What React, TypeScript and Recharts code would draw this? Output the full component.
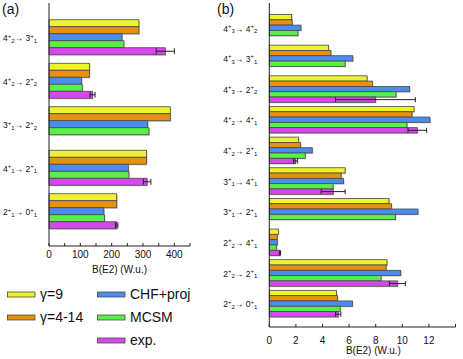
import { Bar, BarChart, ErrorBar, XAxis, YAxis } from 'recharts';

// transitions, written as "J+i>J+f" and split into super/subscripts by the tick
const catsA = ['4+2>3+1', '4+2>2+2', '3+1>2+2', '4+1>2+1', '2+1>0+1'];
const gamma9A = [287, 129, 387, 311, 216];
const gamma414A = [287, 129, 387, 311, 216];
const chfA = [233, 104, 315, 253, 175];
const mcsmA = [239, 106, 319, 255, 177];
const expA = [371, 139, null, 313, 216];
const expErrA = [29, 8, null, 12, 4];
const ticksA = [0, 50, 100, 150, 200, 250, 300, 350, 400, 450];
const labelTicksA = [0, 100, 200, 300, 400];

const catsB = [
  '4+3>4+2',
  '4+3>3+1',
  '4+3>2+2',
  '4+2>4+1',
  '4+2>2+1',
  '3+1>4+1',
  '3+1>2+1',
  '2+2>4+1',
  '2+2>2+1',
  '2+2>0+1',
];
const gamma9B = [1.68, 4.45, 7.35, 10.88, 2.2, 5.7, 9.0, 0.68, 8.85, 5.05];
const gamma414B = [1.72, 4.63, 7.75, 10.73, 2.35, 5.4, 9.18, 0.6, 8.78, 5.13];
const chfB = [2.38, 6.28, 10.55, 12.08, 3.23, 5.58, 11.18, 0.6, 9.88, 6.25];
const mcsmB = [2.15, 5.7, 9.53, 10.35, 2.7, 4.8, 9.48, 0.53, 8.4, 5.33];
const expB = [null, null, 7.98, 11.13, 1.98, 4.8, null, 0.8, 9.63, 5.18];
const expErrB = [null, null, 3.0, 0.7, 0.15, 0.9, null, 0.05, 0.6, 0.2];
const ticksB = [0, 2, 4, 6, 8, 10, 12, 14];
const labelTicksB = [0, 2, 4, 6, 8, 10, 12];

const series = [
  { key: 'g9', name: 'γ=9', color: '#eef42c' },
  { key: 'g414', name: 'γ=4-14', color: '#e8920c' },
  { key: 'chf', name: 'CHF+proj', color: '#4a8cf0' },
  { key: 'mcsm', name: 'MCSM', color: '#58ef46' },
  { key: 'exp', name: 'exp.', color: '#d846f0' },
];

const dataA = catsA.map((cat, i) => ({
  cat,
  g9: gamma9A[i],
  g414: gamma414A[i],
  chf: chfA[i],
  mcsm: mcsmA[i],
  exp: expA[i],
  expErr: expErrA[i],
}));

const dataB = catsB.map((cat, i) => ({
  cat,
  g9: gamma9B[i],
  g414: gamma414B[i],
  chf: chfB[i],
  mcsm: mcsmB[i],
  exp: expB[i],
  expErr: expErrB[i],
}));

const FONT = "'Liberation Sans', Arial, Helvetica, sans-serif";
const AXIS = '#222';
const TEXT = '#111';

function ShadowBar(props: any) {
  const { x, y, width, height, fill } = props;
  if (!width || width <= 0) return null;
  return (
    <g>
      <rect x={x + 1} y={y + 1} width={width} height={height} fill="#c4c4c4" />
      <rect x={x} y={y} width={width} height={height} fill={fill} stroke="#4a4a4a" strokeWidth={0.8} />
    </g>
  );
}

function TransitionTick({ x, y, payload }: any) {
  const m = /^(\d)\+(\d)>(\d)\+(\d)$/.exec(payload.value);
  if (!m) return null;
  return (
    <text x={x} y={y + 3.7} textAnchor="end" fontSize={8.5} fill={TEXT}>
      <tspan>{m[1]}</tspan>
      <tspan fontSize={6} dy={-3.7}>+</tspan>
      <tspan fontSize={6} dy={5.3}>{m[2]}</tspan>
      <tspan dy={-1.6}>{'→ '}{m[3]}</tspan>
      <tspan fontSize={6} dy={-3.7}>+</tspan>
      <tspan fontSize={6} dy={5.3}>{m[4]}</tspan>
    </text>
  );
}

const numTick = (labels: number[]) => (props: any) => {
  const v = props.payload.value;
  if (!labels.includes(v)) return <g />;
  return (
    <text x={props.x} y={props.y} dy="0.71em" textAnchor="middle" fontSize={10} fill={TEXT}>
      {v}
    </text>
  );
};

function renderBars(capWidth: number) {
  return series.map((s) => (
    <Bar key={s.key} dataKey={s.key} name={s.name} fill={s.color} shape={ShadowBar} isAnimationActive={false}>
      {s.key === 'exp' && (
        <ErrorBar dataKey="expErr" direction="x" width={capWidth} stroke="#222" strokeWidth={1} />
      )}
    </Bar>
  ));
}

const legendSlots = [
  { x: 7.5, row: 0 },
  { x: 7.5, row: 1 },
  { x: 97.5, row: 0 },
  { x: 97.5, row: 1 },
  { x: 97.5, row: 2 },
];

export default function App() {
  return (
    <div style={{ position: 'absolute', left: 0, top: 0, width: 463, height: 359, background: '#fff', fontFamily: FONT }}>
      <div style={{ position: 'absolute', left: 0, top: 0 }}>
        <BarChart
          width={200}
          height={280}
          data={dataA}
          layout="vertical"
          margin={{ top: 3, right: 10, bottom: 0, left: 0 }}
          barSize={7}
          barGap={0}
        >
          <XAxis
            type="number"
            domain={[0, 450]}
            ticks={ticksA}
            interval={0}
            height={34}
            stroke={AXIS}
            tickSize={-3}
            tickMargin={7.5}
            tick={numTick(labelTicksA)}
            label={{ value: 'B(E2) (W.u.)', position: 'insideBottom', offset: 7.5, fontSize: 10, fill: TEXT }}
          />
          <XAxis
            xAxisId="top"
            orientation="top"
            type="number"
            domain={[0, 450]}
            ticks={ticksA}
            interval={0}
            height={0}
            stroke={AXIS}
            tick={false}
            tickSize={-3}
          />
          <YAxis
            type="category"
            dataKey="cat"
            width={49}
            stroke={AXIS}
            tickLine={false}
            tickMargin={6}
            interval={0}
            tick={<TransitionTick />}
            padding={{ top: 12.75, bottom: 12.75 }}
          />
          <YAxis
            yAxisId="right"
            orientation="right"
            type="category"
            dataKey="cat"
            width={0}
            stroke={AXIS}
            interval={0}
            tick={false}
            tickSize={-3.5}
            padding={{ top: 12.75, bottom: 12.75 }}
          />
          {renderBars(3)}
        </BarChart>
      </div>

      <div style={{ position: 'absolute', left: 200, top: 0 }}>
        <BarChart
          width={263}
          height={359}
          data={dataB}
          layout="vertical"
          margin={{ top: 3, right: 7.5, bottom: 0, left: 0 }}
          barSize={5.3}
          barGap={0}
        >
          <XAxis
            type="number"
            domain={[0, 14]}
            ticks={ticksB}
            interval={0}
            height={32}
            stroke={AXIS}
            tickSize={-3}
            tickMargin={12.7}
            tick={numTick(labelTicksB)}
            label={{ value: 'B(E2) (W.u.)', position: 'insideBottom', offset: 5, dx: 11, fontSize: 10, fill: TEXT }}
          />
          <XAxis
            xAxisId="top"
            orientation="top"
            type="number"
            domain={[0, 14]}
            ticks={ticksB}
            interval={0}
            height={0}
            stroke={AXIS}
            tick={false}
            tickSize={-3}
          />
          <YAxis
            type="category"
            dataKey="cat"
            width={69.3}
            stroke={AXIS}
            tickLine={false}
            tickMargin={6}
            interval={0}
            tick={<TransitionTick />}
            padding={{ top: 9.5, bottom: 8 }}
          />
          <YAxis
            yAxisId="right"
            orientation="right"
            type="category"
            dataKey="cat"
            width={0}
            stroke={AXIS}
            interval={0}
            tick={false}
            tickSize={-3.5}
            padding={{ top: 9.5, bottom: 8 }}
          />
          {renderBars(2.5)}
        </BarChart>
      </div>

      <svg width={463} height={359} style={{ position: 'absolute', left: 0, top: 0, pointerEvents: 'none' }}>
        <text x={2} y={14} fontSize={14} fill={TEXT}>(a)</text>
        <text x={217} y={14} fontSize={14} fill={TEXT}>(b)</text>
        {series.map((s, i) => {
          const slot = legendSlots[i];
          const top = 292 + slot.row * 23;
          return (
            <g key={s.key}>
              <rect x={slot.x} y={top} width={27.5} height={5} fill={s.color} stroke="#4a4a4a" strokeWidth={0.8} />
              <text x={slot.x + 32.5} y={top + 7} fontSize={14} fill={TEXT}>
                {s.name}
              </text>
            </g>
          );
        })}
      </svg>
    </div>
  );
}
